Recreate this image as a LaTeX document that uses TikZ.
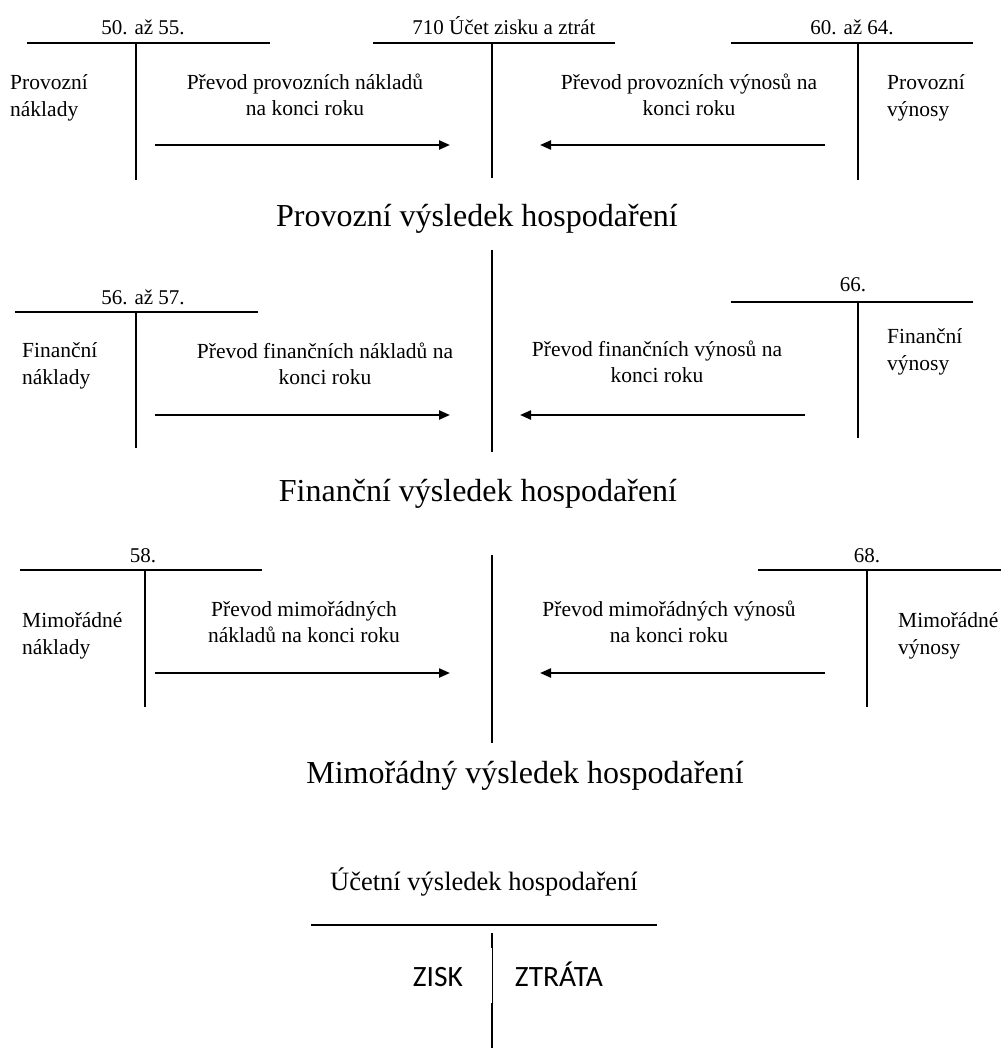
\documentclass[tikz,border=0pt]{standalone}
\usepackage{fontspec}
\setmainfont{Liberation Serif}
\newfontfamily\calfont{Carlito}
\usetikzlibrary{arrows.meta}
\begin{document}
\begin{tikzpicture}[x=1pt,y=-1pt,
  tline/.style={line width=1.8pt},
  flow/.style={line width=2.2pt,-{Triangle[length=11pt,width=9pt]}},
  small/.style={font=\fontsize{21.5}{26.5}\selectfont,inner sep=0pt,align=center},
  side/.style={font=\fontsize{21.5}{26.5}\selectfont,inner sep=0pt,align=left,anchor=west},
  acct/.style={font=\fontsize{21}{24}\selectfont,inner sep=0pt,anchor=base},
  big/.style={font=\fontsize{32}{36}\selectfont,inner sep=0pt},
  sans/.style={font=\calfont\fontsize{29.5}{32}\selectfont,inner sep=0pt,anchor=base}]
\useasboundingbox[fill=white] (0,0) rectangle (1001,1048);

% ---------- Row 1 ----------
\coordinate (a1l) at (27,43); \coordinate (a1r) at (270,43);
\coordinate (a1t) at (136,43); \coordinate (a1b) at (136,180);
\draw[tline] (a1l) -- (a1r); \draw[tline] (a1t) -- (a1b);
\node[acct] (a1n) at (143,35) {50. až 55.};

\coordinate (c1l) at (373,43); \coordinate (c1r) at (615,43);
\coordinate (c1t) at (492,43); \coordinate (c1b) at (492,178);
\draw[tline] (c1l) -- (c1r); \draw[tline] (c1t) -- (c1b);
\node[acct] (c1n) at (504,35) {710 Účet zisku a ztrát};

\coordinate (b1l) at (731,43); \coordinate (b1r) at (973,43);
\coordinate (b1t) at (858,43); \coordinate (b1b) at (858,180);
\draw[tline] (b1l) -- (b1r); \draw[tline] (b1t) -- (b1b);
\node[acct] (b1n) at (852,35) {60. až 64.};

\node[side] (l1) at (10,98) {Provozní\\náklady};
\node[small] (t1l) at (305,95) {Převod provozních nákladů\\na konci roku};
\node[small] (t1r) at (689,95) {Převod provozních výnosů na\\konci roku};
\node[side] (r1) at (887,98) {Provozní\\výnosy};
\coordinate (f1s) at (155,145); \coordinate (f1e) at (450,145);
\coordinate (g1s) at (825,145); \coordinate (g1e) at (540,145);
\draw[flow] (f1s) -- (f1e);
\draw[flow] (g1s) -- (g1e);

\node[big] (h1) at (477,219) {Provozní výsledek hospodaření};

% ---------- Row 2 ----------
\coordinate (c2t) at (492,250); \coordinate (c2b) at (492,452);
\draw[tline] (c2t) -- (c2b);

\coordinate (a2l) at (15,312); \coordinate (a2r) at (258,312);
\coordinate (a2t) at (136,312); \coordinate (a2b) at (136,448);
\draw[tline] (a2l) -- (a2r); \draw[tline] (a2t) -- (a2b);
\node[acct] (a2n) at (143,304) {56. až 57.};

\coordinate (b2l) at (731,302); \coordinate (b2r) at (973,302);
\coordinate (b2t) at (858,302); \coordinate (b2b) at (858,438);
\draw[tline] (b2l) -- (b2r); \draw[tline] (b2t) -- (b2b);
\node[acct] (b2n) at (853,291) {66.};

\node[side] (l2) at (22,366) {Finanční\\náklady};
\node[small] (t2l) at (325,364) {Převod finančních nákladů na\\konci roku};
\node[small] (t2r) at (657,362) {Převod finančních výnosů na\\konci roku};
\node[side] (r2) at (887,352) {Finanční\\výnosy};
\coordinate (f2s) at (155,415); \coordinate (f2e) at (450,415);
\coordinate (g2s) at (805,415); \coordinate (g2e) at (520,415);
\draw[flow] (f2s) -- (f2e);
\draw[flow] (g2s) -- (g2e);

\node[big] (h2) at (478,494) {Finanční výsledek hospodaření};

% ---------- Row 3 ----------
\coordinate (c3t) at (492,555); \coordinate (c3b) at (492,743);
\draw[tline] (c3t) -- (c3b);

\coordinate (a3l) at (20,570); \coordinate (a3r) at (262,570);
\coordinate (a3t) at (145,570); \coordinate (a3b) at (145,707);
\draw[tline] (a3l) -- (a3r); \draw[tline] (a3t) -- (a3b);
\node[acct] (a3n) at (143,562) {58.};

\coordinate (b3l) at (758,570); \coordinate (b3r) at (1001,570);
\coordinate (b3t) at (867,570); \coordinate (b3b) at (867,707);
\draw[tline] (b3l) -- (b3r); \draw[tline] (b3t) -- (b3b);
\node[acct] (b3n) at (867,562) {68.};

\node[side] (l3) at (22,636) {Mimořádné\\náklady};
\node[small] (t3l) at (304,622) {Převod mimořádných\\nákladů na konci roku};
\node[small] (t3r) at (669,622) {Převod mimořádných výnosů\\na konci roku};
\node[side] (r3) at (898,636) {Mimořádné\\výnosy};
\coordinate (f3s) at (155,673); \coordinate (f3e) at (450,673);
\coordinate (g3s) at (825,673); \coordinate (g3e) at (540,673);
\draw[flow] (f3s) -- (f3e);
\draw[flow] (g3s) -- (g3e);

\node[big] (h3) at (525,776) {Mimořádný výsledek hospodaření};

% ---------- Bottom ----------
\node[font=\fontsize{26.5}{30}\selectfont,inner sep=0pt] (uv) at (484,882) {Účetní výsledek hospodaření};
\coordinate (ul) at (311,925); \coordinate (ur) at (657,925);
\draw[tline] (ul) -- (ur);
\coordinate (v1) at (492,933); \coordinate (v2) at (492,948);
\coordinate (v3) at (492,1003); \coordinate (v4) at (492,1048);
\draw[tline] (v1) -- (v2);
\draw[line width=0.7pt] (v2) -- (v3);
\draw[tline] (v3) -- (v4);
\node[sans] (zisk) at (438,986) {ZISK};
\node[sans] (ztr) at (559,986) {ZTRÁTA};
\end{tikzpicture}
\end{document}
